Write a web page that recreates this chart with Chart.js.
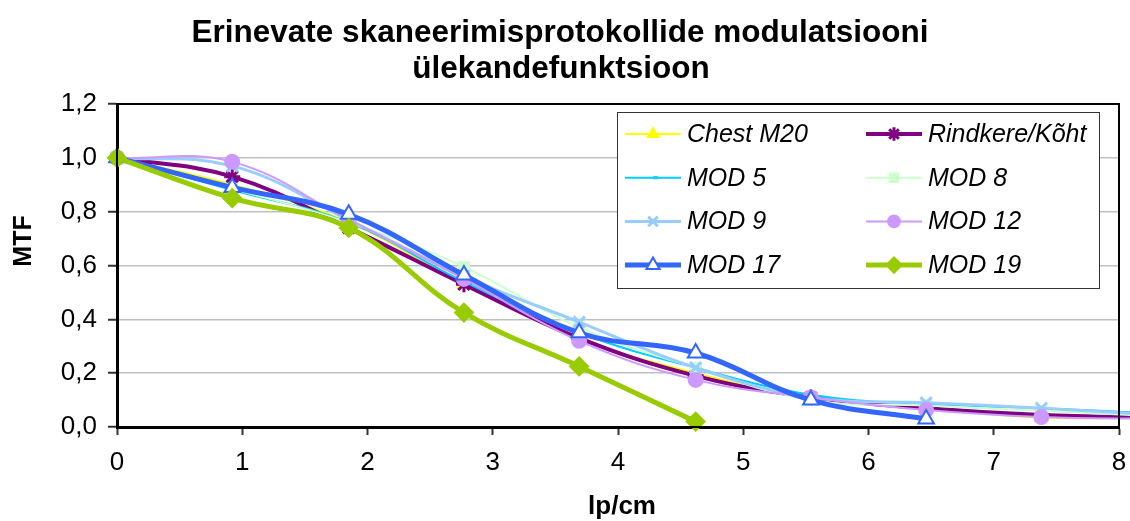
<!DOCTYPE html>
<html>
<head>
<meta charset="utf-8">
<script src="https://cdn.jsdelivr.net/npm/chart.js@4/dist/chart.umd.min.js"></script>
<style>
  html, body { margin: 0; padding: 0; background: #fff; }
  #wrap { width: 1130px; height: 521px; }
</style>
</head>
<body>
<div id="wrap"><canvas id="mtfChart" width="1130" height="521"></canvas></div>
<script>
// spatial frequency, lp/cm
const lpcm = [0, 0.92, 1.85, 2.77, 3.69, 4.62, 5.54, 6.46, 7.38, 8.31];

const chestM20  = [1.0, 0.90, 0.76, 0.53, 0.33, 0.20, 0.11, 0.07, 0.035, 0.035];
const rindkere  = [1.0, 0.93, 0.74, 0.53, 0.33, 0.19, 0.11, 0.07, 0.045, 0.035];
const mod5      = [1.0, 0.88, 0.76, 0.54, 0.35, 0.22, 0.12, 0.085, 0.07, 0.05];
const mod8      = [1.0, 0.885, 0.76, 0.595, 0.37, 0.22, 0.10, 0.08, 0.06, 0.04];
const mod9      = [1.0, 0.97, 0.77, 0.56, 0.39, 0.22, 0.11, 0.09, 0.07, 0.045];
const mod12     = [1.0, 0.985, 0.77, 0.55, 0.32, 0.175, 0.11, 0.063, 0.037, 0.03];
const mod17     = [1.0, 0.89, 0.79, 0.565, 0.35, 0.275, 0.10, 0.03];
const mod19     = [1.0, 0.85, 0.74, 0.425, 0.225, 0.02];

const xTickLabels = ['0', '1', '2', '3', '4', '5', '6', '7', '8'];
const yTickLabels = ['0,0', '0,2', '0,4', '0,6', '0,8', '1,0', '1,2'];

const titleLines = ['Erinevate skaneerimisprotokollide modulatsiooni', 'ülekandefunktsioon'];
const xTitle = 'lp/cm';
const yTitle = 'MTF';

const FONT = '"Liberation Sans", Arial, sans-serif';

const toPoints = vals => vals.map((v, i) => ({ x: lpcm[i], y: v }));

const seriesDefs = [
  { label: 'Chest M20',      data: chestM20, color: '#FFFF00', width: 2, style: 'triangle',  radius: 7, fill: '#FFFF00' },
  { label: 'Rindkere/Kõht',  data: rindkere, color: '#800080', width: 4, style: 'star',      radius: 8, fill: '#800080' },
  { label: 'MOD 5',          data: mod5,     color: '#00CCFF', width: 2, style: 'dash',      radius: 6, fill: '#00CCFF' },
  { label: 'MOD 8',          data: mod8,     color: '#CCFFCC', width: 2, style: 'rect',      radius: 7, fill: '#CCFFCC' },
  { label: 'MOD 9',          data: mod9,     color: '#99CCFF', width: 3, style: 'crossRot',  radius: 8, fill: '#99CCFF' },
  { label: 'MOD 12',         data: mod12,    color: '#CC99FF', width: 2, style: 'circle',    radius: 7, fill: '#CC99FF' },
  { label: 'MOD 17',         data: mod17,    color: '#3366FF', width: 5, style: 'triangle',  radius: 9, fill: '#FFFFFF' },
  { label: 'MOD 19',         data: mod19,    color: '#99CC00', width: 5, style: 'rectRot',   radius: 9, fill: '#99CC00' }
];

const datasets = seriesDefs.map((s, i) => ({
  label: s.label,
  data: toPoints(s.data),
  borderColor: s.color,
  borderWidth: s.width,
  backgroundColor: s.fill,
  pointStyle: s.style,
  pointRadius: s.radius,
  pointBorderColor: s.color,
  pointBackgroundColor: s.fill,
  pointBorderWidth: s.style === 'star' || s.style === 'crossRot' || s.style === 'dash' ? 3 : 2,
  tension: 0.4,
  clip: false,
  order: seriesDefs.length - i
}));

// frame round the plot area
const frame = {
  id: 'frame',
  afterDatasetsDraw(chart) {
    const a = chart.chartArea, ctx = chart.ctx;
    ctx.save();
    ctx.strokeStyle = '#000';
    ctx.lineWidth = 2;
    ctx.strokeRect(a.left, a.top, a.right - a.left, a.bottom - a.top);
    ctx.restore();
  }
};

// chart title and axis titles
const texts = {
  id: 'texts',
  afterDraw(chart) {
    const ctx = chart.ctx, a = chart.chartArea;
    ctx.save();
    ctx.fillStyle = '#000';
    ctx.textAlign = 'center';
    ctx.textBaseline = 'alphabetic';
    ctx.font = 'bold 31.5px ' + FONT;
    ctx.fillText(titleLines[0], 560, 42);
    ctx.fillText(titleLines[1], 561, 78);

    ctx.font = 'bold 26px ' + FONT;
    ctx.textBaseline = 'middle';
    ctx.fillText(xTitle, (a.left + a.right) / 2 + 4, 507);

    ctx.font = 'bold 25px ' + FONT;
    ctx.translate(24, 241);
    ctx.rotate(-Math.PI / 2);
    ctx.fillText(yTitle, 0, 0);
    ctx.restore();
  }
};

// two-column legend in a box inside the plot
const boxLegend = {
  id: 'boxLegend',
  afterDraw(chart) {
    const ctx = chart.ctx;
    const bx = 617, by = 112, bw = 482, bh = 176;
    ctx.save();
    ctx.fillStyle = '#fff';
    ctx.fillRect(bx, by, bw, bh);
    ctx.strokeStyle = '#333';
    ctx.lineWidth = 1;
    ctx.strokeRect(bx + 0.5, by + 0.5, bw, bh);
    ctx.font = 'italic 25px ' + FONT;
    ctx.textBaseline = 'middle';
    seriesDefs.forEach((s, i) => {
      const col = i % 2, row = Math.floor(i / 2);
      const x0 = col === 0 ? 625 : 866;
      const y = 134 + row * 43.7;
      ctx.strokeStyle = s.color;
      ctx.lineWidth = s.width;
      ctx.beginPath();
      ctx.moveTo(x0, y);
      ctx.lineTo(x0 + 56, y);
      ctx.stroke();
      ctx.fillStyle = s.fill;
      ctx.strokeStyle = s.color;
      ctx.lineWidth = datasets[i].pointBorderWidth;
      Chart.helpers.drawPoint(ctx, { pointStyle: s.style, radius: s.radius * 0.85, borderWidth: datasets[i].pointBorderWidth, rotation: 0 }, x0 + 28, y);
      ctx.fillStyle = '#000';
      ctx.fillText(s.label, x0 + 62, y + 1);
    });
    ctx.restore();
  }
};

new Chart(document.getElementById('mtfChart').getContext('2d'), {
  type: 'line',
  data: { datasets },
  options: {
    responsive: false,
    animation: false,
    layout: { padding: { left: 0, right: 10, top: 104, bottom: 0 } },
    plugins: {
      legend: { display: false },
      tooltip: { enabled: false },
      title: { display: false }
    },
    scales: {
      x: {
        type: 'linear',
        min: 0,
        max: 8,
        afterBuildTicks: s => { s.ticks = xTickLabels.map((_, i) => ({ value: i })); },
        afterFit: s => { s.height = 94; s.paddingLeft = 0; s.paddingRight = 0; },
        ticks: {
          color: '#000',
          font: { family: FONT, size: 26 },
          padding: 12,
          maxRotation: 0,
          callback: (v, i) => xTickLabels[i]
        },
        grid: { drawOnChartArea: false, drawTicks: true, tickLength: 8, tickColor: '#333', tickWidth: 2 },
        border: { color: '#000', width: 3 }
      },
      y: {
        min: 0,
        max: 1.2,
        afterBuildTicks: s => { s.ticks = yTickLabels.map((_, i) => ({ value: i * 0.2 })); },
        afterFit: s => { s.width = 117; s.paddingTop = 0; s.paddingBottom = 0; },
        ticks: {
          color: '#000',
          font: { family: FONT, size: 26 },
          padding: 11,
          callback: (v, i) => yTickLabels[i]
        },
        grid: { color: '#c0c0c0', lineWidth: 1.5, drawTicks: true, tickLength: 9, tickColor: '#333', tickWidth: 2 },
        border: { color: '#000', width: 3 }
      }
    }
  },
  plugins: [frame, texts, boxLegend]
});
</script>
</body>
</html>
